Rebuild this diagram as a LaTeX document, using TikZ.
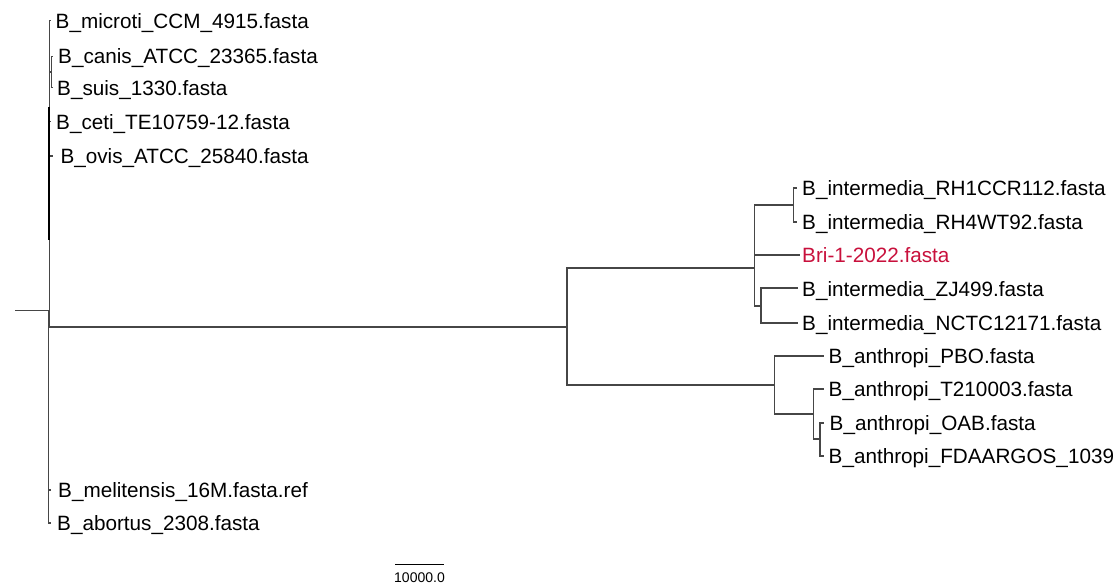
\documentclass[tikz,border=0pt]{standalone}
\usepackage{fontspec}
\setmainfont{Liberation Sans}
\definecolor{branch}{RGB}{70,70,70}
\definecolor{query}{RGB}{200,16,60}
\begin{document}
\begin{tikzpicture}[x=1pt,y=-1pt,
  edge/.style={draw=branch,line width=1.1pt},
  thickedge/.style={draw=black,line width=2.2pt},
  leaf/.style={anchor=base west,inner sep=0pt,font=\fontsize{20.7}{24}\selectfont},
  qleaf/.style={leaf,text=query},
  scalelab/.style={anchor=base,inner sep=0pt,font=\fontsize{14}{16}\selectfont}]
\useasboundingbox (0,0) rectangle (1113,583);
% internal nodes
\coordinate (rootL) at (15,310.5);
\coordinate (root) at (48.5,310.5);
\coordinate (bru) at (49.3,327);
\coordinate (cs) at (51.7,72);
\coordinate (oc) at (567,327);
\coordinate (int) at (754.7,268);
\coordinate (intA) at (754.2,230);
\coordinate (rh) at (793.3,205);
\coordinate (intLow) at (761,306);
\coordinate (ant) at (774.7,385);
\coordinate (antB) at (813.3,414);
\coordinate (antC) at (820,439);
% tips
\coordinate (tMic) at (50.7,20.7);
\coordinate (tCan) at (53.2,56.7);
\coordinate (tSui) at (53.2,87.3);
\coordinate (tCet) at (51.2,121.7);
\coordinate (tOvi) at (52.5,156);
\coordinate (tMel) at (51.2,490);
\coordinate (tAbo) at (51.2,523);
\coordinate (tRh1) at (797,188);
\coordinate (tRh4) at (797,222);
\coordinate (tBri) at (800,255);
\coordinate (tZj) at (798,288);
\coordinate (tNc) at (798,323);
\coordinate (tPbo) at (824,356);
\coordinate (tT21) at (824,389);
\coordinate (tOab) at (824,423);
\coordinate (tFda) at (824,456);
\coordinate (thA) at (49.3,107);
\coordinate (thB) at (49.3,240);
% branches
\draw[edge] (rootL) -- (root);
\draw[edge] (root) |- (tMel);
\draw[edge] (root) |- (tAbo);
\draw[edge] (bru) -- (oc);
\draw[edge] (bru) |- (tMic);
\draw[edge] (bru) |- (cs);
\draw[edge] (bru) |- (tCet);
\draw[edge] (bru) |- (tOvi);
\draw[thickedge] (thA) -- (thB);
\draw[edge] (cs) |- (tCan);
\draw[edge] (cs) |- (tSui);
\draw[edge] (oc) |- (int);
\draw[edge] (oc) |- (ant);
\draw[edge] (int) |- (intA);
\draw[edge] (int) |- (intLow);
\draw[edge] (intA) |- (rh);
\draw[edge] (intA) |- (tBri);
\draw[edge] (rh) |- (tRh1);
\draw[edge] (rh) |- (tRh4);
\draw[edge] (intLow) |- (tZj);
\draw[edge] (intLow) |- (tNc);
\draw[edge] (ant) |- (tPbo);
\draw[edge] (ant) |- (antB);
\draw[edge] (antB) |- (tT21);
\draw[edge] (antB) |- (antC);
\draw[edge] (antC) |- (tOab);
\draw[edge] (antC) |- (tFda);
% labels
\node[leaf] (lMic) at (55.5,28.5) {B\_microti\_CCM\_4915.fasta};
\node[leaf] (lCan) at (58,63.5) {B\_canis\_ATCC\_23365.fasta};
\node[leaf] (lSui) at (57,95.5) {B\_suis\_1330.fasta};
\node[leaf] (lCet) at (56,129) {B\_ceti\_TE10759-12.fasta};
\node[leaf] (lOvi) at (60.3,163.3) {B\_ovis\_ATCC\_25840.fasta};
\node[leaf] (lRh1) at (802,195.5) {B\_intermedia\_RH1CCR112.fasta};
\node[leaf] (lRh4) at (802,229.5) {B\_intermedia\_RH4WT92.fasta};
\node[qleaf] (lBri) at (802,262.5) {Bri-1-2022.fasta};
\node[leaf] (lZj) at (802,296.5) {B\_intermedia\_ZJ499.fasta};
\node[leaf] (lNc) at (802,330.5) {B\_intermedia\_NCTC12171.fasta};
\node[leaf] (lPbo) at (828.5,363.5) {B\_anthropi\_PBO.fasta};
\node[leaf] (lT21) at (828.5,396.5) {B\_anthropi\_T210003.fasta};
\node[leaf] (lOab) at (829.5,430.5) {B\_anthropi\_OAB.fasta};
\node[leaf] (lFda) at (828.5,463.5) {B\_anthropi\_FDAARGOS\_1039};
\node[leaf] (lMel) at (58,497.5) {B\_melitensis\_16M.fasta.ref};
\node[leaf] (lAbo) at (57,530.5) {B\_abortus\_2308.fasta};
% scale bar
\coordinate (sbL) at (395,564.3);
\coordinate (sbR) at (444,564.3);
\draw[draw=black,line width=1.2pt] (sbL) -- (sbR);
\node[scalelab] (sbT) at (419.5,582) {10000.0};
\end{tikzpicture}
\end{document}
